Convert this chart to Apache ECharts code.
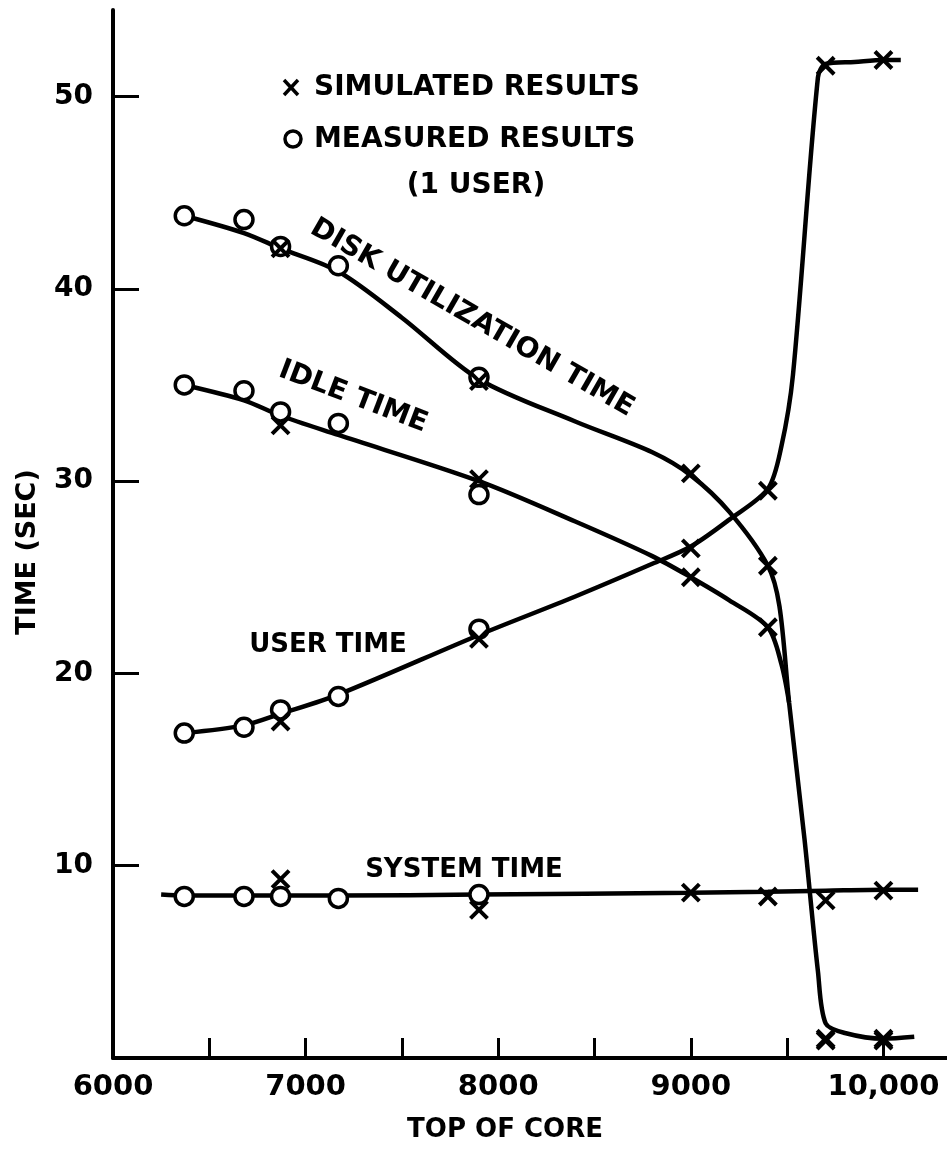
<!DOCTYPE html>
<html><head><meta charset="utf-8">
<script src="https://cdn.jsdelivr.net/npm/echarts@6/dist/echarts.min.js"></script>
<style>html,body{margin:0;padding:0;background:#fff}#c{width:947px;height:1150px}</style>
</head><body><div id="c"></div>
<script>
// ---- axis ticks / labels ----
const xTickValues = [6500, 7000, 7500, 8000, 8500, 9000, 9500, 10000];
const xLabelValues = [6000, 7000, 8000, 9000, 10000];
const yTickValues = [10, 20, 30, 40, 50];
const yLabelValues = [10, 20, 30, 40, 50];

// ---- measured results (circles) ----
const diskMeasured   = [[6370,43.8],[6680,43.6],[6870,42.2],[7170,41.2],[7900,35.4]];
const idleMeasured   = [[6370,35.0],[6680,34.7],[6870,33.6],[7170,33.0],[7900,29.3]];
const userMeasured   = [[6370,16.9],[6680,17.2],[6870,18.1],[7170,18.8],[7900,22.3]];
const systemMeasured = [[6370,8.4],[6680,8.4],[6870,8.4],[7170,8.3],[7900,8.5]];

// ---- simulated results (crosses) ----
const diskSimulated   = [[6870,42.1],[7900,35.2],[9000,30.4],[9400,25.6],[9700,1.0],[10000,1.0]];
const idleSimulated   = [[6870,32.9],[7900,30.1],[9000,25.0],[9400,22.4],[9700,0.9],[10000,0.9]];
const userSimulated   = [[6870,17.5],[7900,21.8],[9000,26.5],[9400,29.5],[9700,51.6],[10000,51.9]];
const systemSimulated = [[6870,9.3],[7900,7.7],[9000,8.6],[9400,8.4],[9700,8.2],[10000,8.7]];

// ---- drawn curves ----
const diskCurve = [[6370,43.8],[6680,42.9],[6870,42.1],[7170,40.9],[7500,38.5],[7900,35.3],[8400,33.1],[8800,31.5],[9000,30.3],[9200,28.4],[9400,25.6],[9460,23.5],[9510,18.5],[9590,11.4],[9660,4.5],[9700,1.8],[9800,1.3],[10000,1.0],[10160,1.1]];
const idleCurve = [[6370,35.0],[6680,34.2],[6870,33.4],[7170,32.4],[7900,30.0],[8400,27.9],[8800,26.1],[9000,25.0],[9200,23.8],[9400,22.4],[9470,20.5],[9510,18.5]];
const userCurve = [[6370,16.9],[6680,17.3],[6870,17.9],[7170,18.9],[7900,22.0],[8400,24.0],[8800,25.7],[9000,26.6],[9200,28.0],[9400,29.6],[9470,31.8],[9530,35.5],[9660,51.0],[9700,51.7],[9850,51.8],[10000,51.9],[10090,51.9]];
const systemCurve = [[6250,8.5],[6370,8.45],[7170,8.45],[7900,8.5],[9000,8.6],[9400,8.65],[9700,8.7],[10000,8.75],[10180,8.75]];

const FONT = '"DejaVu Sans", sans-serif';
const chart = echarts.init(document.getElementById('c'), null, {renderer: 'canvas'});

const crossPath = 'path://M0,0L10,10M10,0L0,10';
function curve(data) {
  return {type: 'line', data, symbol: 'none', smooth: 0.3,
    lineStyle: {color: '#000', width: 4.5}, z: 2, silent: true};
}
function measured(data) {
  return {type: 'scatter', data, symbol: 'circle', symbolSize: 18,
    itemStyle: {color: '#fff', borderColor: '#000', borderWidth: 3.5, opacity: 1}, z: 4, silent: true};
}
function simulated(data) {
  return {type: 'scatter', data, symbol: crossPath, symbolSize: 17,
    itemStyle: {color: 'rgba(0,0,0,0)', borderColor: '#000', borderWidth: 4, opacity: 1}, z: 5, silent: true};
}

const txt = (text, x, y, size, rotDeg, align) => ({
  type: 'text', x, y, rotation: (rotDeg || 0) * Math.PI / 180, z: 10,
  style: {text, font: 'bold ' + size + 'px ' + FONT, fill: '#000',
    textAlign: align || 'center', textVerticalAlign: 'middle'}
});

chart.setOption({
  animation: false,
  backgroundColor: '#fff',
  grid: {left: 113, right: 0, top: 10, bottom: 92},
  xAxis: {
    type: 'value', min: 6000, max: 10330, interval: 500,
    axisLine: {show: true, lineStyle: {color: '#000', width: 4}},
    axisTick: {show: true, inside: true, length: 20, customValues: xTickValues, lineStyle: {color: '#000', width: 3}},
    axisLabel: {show: true, customValues: xLabelValues, margin: 15, color: '#000',
      fontFamily: FONT, fontWeight: 'bold', fontSize: 29,
      formatter: v => v === 10000 ? '10,000' : String(v)},
    splitLine: {show: false}
  },
  yAxis: {
    type: 'value', min: 0, max: 54.5, interval: 10,
    axisLine: {show: true, lineStyle: {color: '#000', width: 4}},
    axisTick: {show: true, inside: true, length: 26, customValues: yTickValues, lineStyle: {color: '#000', width: 3}},
    axisLabel: {show: true, customValues: yLabelValues, margin: 20, color: '#000',
      fontFamily: FONT, fontWeight: 'bold', fontSize: 28},
    splitLine: {show: false}
  },
  series: [
    curve(diskCurve), curve(idleCurve), curve(userCurve), curve(systemCurve),
    measured(diskMeasured), measured(idleMeasured), measured(userMeasured), measured(systemMeasured),
    simulated(diskSimulated), simulated(idleSimulated), simulated(userSimulated), simulated(systemSimulated)
  ],
  graphic: [
    // axis titles
    txt('TIME (SEC)', 28, 552, 27, 90),
    txt('TOP OF CORE', 505, 1130, 26, 0),
    // legend
    {type: 'line', z: 10, shape: {x1: 284, y1: 80, x2: 298, y2: 95}, style: {stroke: '#000', lineWidth: 3.5}},
    {type: 'line', z: 10, shape: {x1: 298, y1: 80, x2: 284, y2: 95}, style: {stroke: '#000', lineWidth: 3.5}},
    txt('SIMULATED RESULTS', 314, 88, 28, 0, 'left'),
    {type: 'circle', z: 10, shape: {cx: 293, cy: 139, r: 8}, style: {fill: '#fff', stroke: '#000', lineWidth: 3.5}},
    txt('MEASURED RESULTS', 314, 140, 28, 0, 'left'),
    txt('(1 USER)', 476, 186, 28, 0),
    // curve labels
    txt('DISK UTILIZATION TIME', 472, 318, 28, -30),
    txt('IDLE TIME', 353, 397, 28, -21),
    txt('USER TIME', 328, 645, 26, 0),
    txt('SYSTEM TIME', 464, 870, 26, 0)
  ]
});
</script></body></html>
